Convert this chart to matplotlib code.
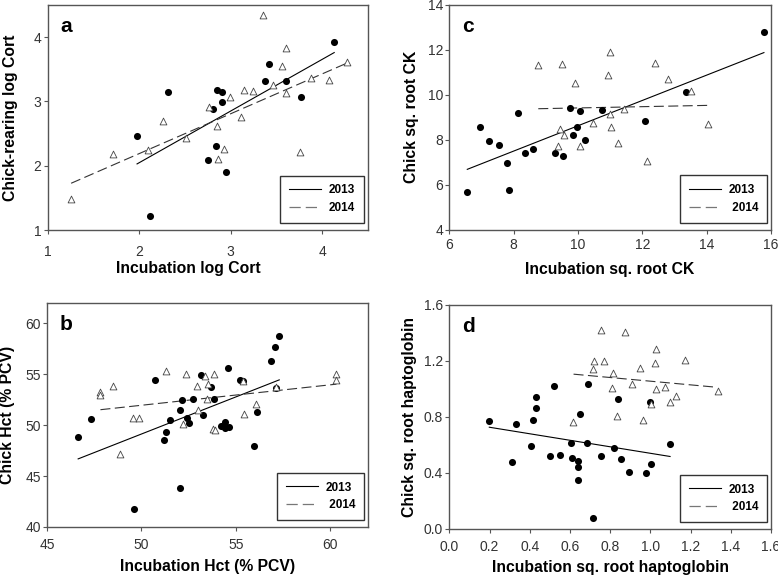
import matplotlib
matplotlib.use("Agg")
import matplotlib.pyplot as plt
from matplotlib.lines import Line2D
import numpy as np

plt.rcParams['font.family'] = ['Liberation Sans', 'DejaVu Sans']

# ---------------- Panel a: log Cort ----------------
a_x13 = [4.131, 3.422, 3.378, 3.60, 3.764, 2.313, 2.855, 2.905, 2.909, 2.804, 1.978, 2.843, 2.749, 2.945, 2.12]
a_y13 = [3.932, 3.589, 3.325, 3.315, 3.076, 3.144, 3.18, 3.144, 2.988, 2.889, 2.468, 2.308, 2.095, 1.898, 1.218]
a_x14 = [3.349, 3.603, 3.556, 4.276, 3.88, 4.069, 3.466, 3.603, 3.145, 3.243, 2.996, 2.763, 3.117, 2.265,
         2.851, 2.509, 2.094, 1.716, 2.924, 2.862, 3.756, 1.258]
a_y14 = [4.343, 3.828, 3.553, 3.611, 3.366, 3.335, 3.262, 3.138, 3.175, 3.16, 3.07, 2.92, 2.76, 2.69,
         2.62, 2.43, 2.245, 2.178, 2.256, 2.10, 2.209, 1.478]
a_fit13 = ([1.978, 4.131], [2.028, 3.76])
a_fit14 = ([1.258, 4.276], [1.727, 3.60])

# ---------------- Panel b: Hct ----------------
b_x13 = [57.30, 57.07, 56.86, 54.58, 53.16, 50.70, 55.21, 55.37, 53.66, 57.13, 52.17, 52.75, 53.85, 52.04,
         56.13, 53.25, 51.50, 52.44, 52.54, 47.32, 51.28, 51.18, 54.22, 54.43, 54.42, 54.63, 46.65, 55.97,
         52.03, 49.62]
b_y13 = [58.76, 57.65, 56.34, 55.63, 54.95, 54.42, 54.43, 54.32, 53.79, 53.70, 52.50, 52.56, 52.53, 51.52,
         51.29, 50.98, 50.47, 50.70, 50.21, 50.64, 49.30, 48.51, 49.95, 50.27, 49.69, 49.82, 48.88, 47.99,
         43.82, 41.79]
b_x14 = [51.30, 52.35, 53.83, 53.37, 53.51, 52.95, 47.83, 47.83, 48.49, 49.55, 49.87, 53.46, 52.98, 52.22,
         53.78, 53.90, 48.86, 56.06, 55.44, 60.33, 60.33, 57.13, 55.37]
b_y14 = [55.33, 55.07, 55.07, 54.84, 54.06, 53.80, 53.21, 52.95, 53.87, 50.66, 50.68, 52.62, 51.52, 50.08,
         49.66, 49.56, 47.14, 52.10, 51.13, 55.01, 54.45, 53.78, 54.32]
b_fit13 = ([46.65, 57.30], [46.69, 54.45])
b_fit14 = ([47.83, 60.33], [51.52, 54.03])

# ---------------- Panel c: sq. root CK ----------------
c_x13 = [6.559, 7.855, 6.944, 7.224, 7.553, 7.793, 8.144, 8.352, 8.592, 9.285, 9.533, 9.760, 10.062, 10.746,
         9.978, 9.835, 10.217, 12.092, 13.36, 15.78]
c_y13 = [5.65, 5.78, 8.55, 7.95, 7.77, 6.97, 9.19, 7.39, 7.59, 7.39, 7.27, 9.40, 9.28, 9.33,
         8.58, 8.22, 7.98, 8.83, 10.14, 12.81]
c_x14 = [8.766, 9.502, 11.004, 10.942, 9.897, 11.44, 11.004, 10.457, 11.035, 9.45, 9.555, 9.387, 10.062,
         11.243, 12.154, 12.40, 12.81, 13.51, 14.03]
c_y14 = [11.33, 11.37, 11.91, 10.89, 10.52, 9.38, 9.13, 8.75, 8.56, 8.49, 8.22, 7.71, 7.71,
         7.86, 7.06, 11.41, 10.72, 10.17, 8.71]
c_fit13 = ([6.559, 15.78], [6.68, 11.88])
c_fit14 = ([8.766, 14.07], [9.38, 9.53])

# ---------------- Panel d: sq. root haptoglobin ----------------
d_x13 = [0.199, 0.314, 0.331, 0.404, 0.415, 0.430, 0.430, 0.523, 0.503, 0.553, 0.603, 0.612, 0.638, 0.641,
         0.640, 0.651, 0.690, 0.686, 0.754, 0.818, 0.841, 0.856, 0.896, 0.716, 0.999, 0.979, 1.003, 1.098]
d_y13 = [0.775, 0.482, 0.751, 0.594, 0.777, 0.865, 0.946, 1.022, 0.521, 0.530, 0.616, 0.506, 0.485, 0.440,
         0.352, 0.822, 1.039, 0.616, 0.525, 0.578, 0.927, 0.497, 0.404, 0.078, 0.906, 0.399, 0.464, 0.606]
d_x14 = [0.613, 0.836, 0.808, 0.909, 0.814, 0.756, 0.874, 1.029, 0.721, 0.769, 1.171, 1.023, 0.713, 0.947,
         1.030, 1.075, 1.127, 1.100, 1.002, 0.961, 1.334]
d_y14 = [0.765, 0.810, 1.008, 1.036, 1.115, 1.419, 1.407, 1.284, 1.203, 1.203, 1.205, 1.186, 1.141, 1.150,
         1.001, 1.017, 0.949, 0.906, 0.896, 0.780, 0.989]
d_fit13 = ([0.199, 1.098], [0.727, 0.518])
d_fit14 = ([0.618, 1.326], [1.106, 1.013])

W, H = 778, 579
fig = plt.figure(figsize=(W / 100, H / 100), dpi=100)


def px_axes(l, t, r, b):
    return fig.add_axes([l / W, 1 - b / H, (r - l) / W, (b - t) / H])


SPINE = '#555555'
TICKC = '#333333'


def style(ax, xlim, ylim, xticks, yticks, xpad, xfmt=None, yfmt=None):
    ax.set_xlim(*xlim)
    ax.set_ylim(*ylim)
    ax.set_xticks(xticks)
    ax.set_yticks(yticks)
    if xfmt:
        ax.set_xticklabels([xfmt.format(v) for v in xticks])
    if yfmt:
        ax.set_yticklabels([yfmt.format(v) for v in yticks])
    for s in ax.spines.values():
        s.set_color(SPINE)
        s.set_linewidth(1.0)
    ax.tick_params(direction='out', width=0.8, color=SPINE, labelsize=10, labelcolor=TICKC)
    ax.tick_params(axis='x', length=3, pad=xpad)
    ax.tick_params(axis='y', length=3, pad=1.5)


def draw(ax, x13, y13, x14, y14, f13, f14, letter, xlabel, ylabel, leg14, xlab_pos, ylab_pos):
    ax.plot(f13[0], f13[1], color='black', lw=0.8, zorder=2)
    ax.plot(f14[0], f14[1], color='#333333', lw=0.8, dashes=(9, 4), zorder=2)
    ax.scatter(x13, y13, s=26, c='black', marker='o', linewidths=0, zorder=3)
    ax.scatter(x14, y14, s=24, facecolors='white', edgecolors='#444444', marker='^',
               linewidths=0.6, zorder=4)
    ax.text(0.04, 0.905, letter, transform=ax.transAxes, fontsize=15, fontweight='bold',
            ha='left', va='center')
    ax.set_xlabel(xlabel, fontsize=11.3, fontweight='bold')
    ax.set_ylabel(ylabel, fontsize=11.3, fontweight='bold')
    ax.xaxis.set_label_coords(*xlab_pos)
    ax.yaxis.set_label_coords(*ylab_pos)
    ax.xaxis.label.set_va('center')
    ax.yaxis.label.set_va('center')
    handles = [Line2D([], [], color='black', lw=0.8),
               Line2D([], [], color='#777777', lw=0.9, dashes=(9, 4))]
    leg = ax.legend(handles, ['2013', leg14], loc='lower right', bbox_to_anchor=(0.988, 0.03),
                    frameon=True, fancybox=False, edgecolor='#333333', framealpha=1,
                    prop={'weight': 'bold', 'size': 8.5}, handlelength=2.7, handletextpad=0.7,
                    borderpad=0.75, labelspacing=0.5, borderaxespad=0.0)
    leg.get_frame().set_linewidth(1.0)


axa = px_axes(47.5, 5, 368, 230)
style(axa, (1, 4.5), (1, 4.5), [1, 2, 3, 4], [1, 2, 3, 4], xpad=8)
draw(axa, a_x13, a_y13, a_x14, a_y14, a_fit13, a_fit14, 'a',
     'Incubation log Cort', 'Chick-rearing log Cort', '2014', (0.438, -0.173), (-0.114, 0.5))

axc = px_axes(449.3, 5, 771, 229.5)
style(axc, (6, 16), (4, 14), [6, 8, 10, 12, 14, 16], [4, 6, 8, 10, 12, 14], xpad=3)
draw(axc, c_x13, c_y13, c_x14, c_y14, c_fit13, c_fit14, 'c',
     'Incubation sq. root CK', 'Chick sq. root CK', ' 2014', (0.5, -0.177), (-0.117, 0.5))

axb = px_axes(47, 303, 368, 527)
style(axb, (45, 62), (40, 62), [45, 50, 55, 60], [40, 45, 50, 55, 60], xpad=5)
draw(axb, b_x13, b_y13, b_x14, b_y14, b_fit13, b_fit14, 'b',
     'Incubation Hct (% PCV)', 'Chick Hct (% PCV)', ' 2014', (0.5, -0.177), (-0.124, 0.5))

axd = px_axes(449.3, 305, 771, 529)
style(axd, (0, 1.6), (0, 1.6), [0.0, 0.2, 0.4, 0.6, 0.8, 1.0, 1.2, 1.4, 1.6],
      [0.0, 0.4, 0.8, 1.2, 1.6], xpad=5, xfmt='{:.1f}', yfmt='{:.1f}')
draw(axd, d_x13, d_y13, d_x14, d_y14, d_fit13, d_fit14, 'd',
     'Incubation sq. root haptoglobin', 'Chick sq. root haptoglobin', ' 2014', (0.5, -0.171), (-0.125, 0.5))

fig.savefig('out.png', dpi=100)
